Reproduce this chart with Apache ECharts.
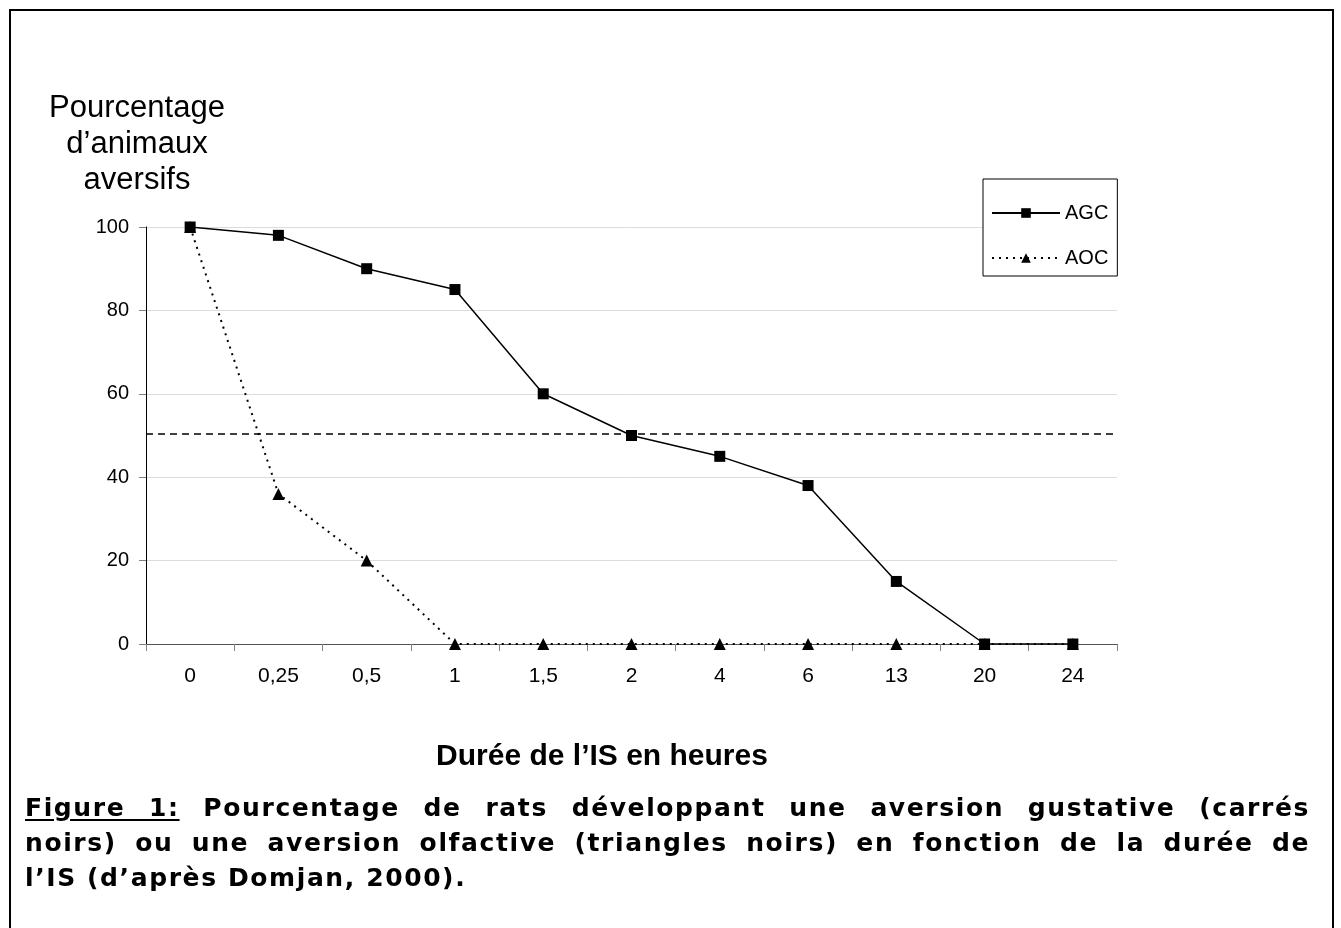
<!DOCTYPE html>
<html>
<head>
<meta charset="utf-8">
<script src="https://cdn.jsdelivr.net/npm/echarts@6/dist/echarts.min.js"></script>
<style>
  html, body { margin: 0; padding: 0; background: #fff; }
  #chart { width: 1341px; height: 928px; position: relative; }
  .caption {
    position: absolute;
    left: 25px;
    top: 790px;
    width: 1285px;
    font-family: "DejaVu Sans", sans-serif;
    font-weight: bold;
    font-size: 25px;
    letter-spacing: 1.6px;
    line-height: 35px;
    color: #000;
  }
  .caption div { white-space: nowrap; }
  .caption .just { text-align: justify; text-align-last: justify; }
  .caption u { text-underline-offset: 3px; }
</style>
</head>
<body>
<div id="chart"></div>
<div class="caption">
  <div class="just"><u>Figure 1:</u> Pourcentage de rats développant une aversion gustative (carrés</div>
  <div class="just">noirs) ou une aversion olfactive (triangles noirs) en fonction de la durée de</div>
  <div>l’IS (d’après Domjan, 2000).</div>
</div>
<script>
  // durée de l'IS (heures)
  const durations = ["0", "0,25", "0,5", "1", "1,5", "2", "4", "6", "13", "20", "24"];
  // aversion gustative (carrés)
  const agcValues = [100, 98, 90, 85, 60, 50, 45, 38, 15, 0, 0];
  // aversion olfactive (triangles)
  const aocValues = [100, 36, 20, 0, 0, 0, 0, 0, 0, 0, 0];
  const yTicks = [0, 20, 40, 60, 80, 100];
  const threshold = 50.5;

  const chart = echarts.init(document.getElementById("chart"));
  const font = "Liberation Sans";

  chart.setOption({
    animation: false,
    textStyle: { fontFamily: font, color: "#000" },
    grid: { left: 146, right: 224, top: 227, bottom: 284 },
    legend: {
      orient: "vertical",
      left: 983,
      top: 179,
      padding: [24, 9, 8, 8],
      itemGap: 25,
      itemWidth: 68,
      itemHeight: 12,
      borderColor: "#000",
      borderWidth: 1,
      backgroundColor: "#fff",
      textStyle: { fontFamily: font, fontSize: 20, color: "#000" },
      data: ["AGC", "AOC"]
    },
    xAxis: {
      type: "category",
      data: durations,
      boundaryGap: true,
      axisLine: { lineStyle: { color: "#555", width: 1 } },
      axisTick: { show: true, length: 7, lineStyle: { color: "#808080" } },
      axisLabel: { fontSize: 21, color: "#000", margin: 22, fontFamily: font },
      splitLine: { show: false }
    },
    yAxis: {
      type: "value",
      min: yTicks[0],
      max: yTicks[yTicks.length - 1],
      interval: yTicks[1] - yTicks[0],
      axisLine: { show: true, lineStyle: { color: "#000", width: 1 } },
      axisTick: { show: true, length: 7, lineStyle: { color: "#808080" } },
      axisLabel: { fontSize: 20, color: "#000", margin: 17, fontFamily: font },
      splitLine: { show: true, lineStyle: { color: "#dcdcdc", width: 1 } }
    },
    series: [
      {
        name: "AGC",
        type: "line",
        data: agcValues,
        symbol: "rect",
        symbolSize: 11,
        itemStyle: { color: "#000" },
        lineStyle: { color: "#000", width: 1.5 },
        markLine: {
          silent: true,
          symbol: "none",
          label: { show: false },
          lineStyle: { color: "#000", type: [7, 5], width: 1.5 },
          data: [{ yAxis: threshold }]
        },
        z: 3
      },
      {
        name: "AOC",
        type: "line",
        data: aocValues,
        symbol: "triangle",
        symbolSize: 12,
        itemStyle: { color: "#000" },
        lineStyle: { color: "#000", width: 2, type: [2, 5] },
        z: 4
      }
    ],
    graphic: [
      {
        type: "rect",
        shape: { x: 10, y: 10, width: 1323, height: 1000 },
        style: { fill: "none", stroke: "#000", lineWidth: 2 },
        silent: true
      },
      {
        type: "text",
        x: 137,
        y: 90,
        style: {
          text: "Pourcentage\nd’animaux\naversifs",
          fontFamily: font,
          fontSize: 31,
          fill: "#000",
          align: "center",
          verticalAlign: "top",
          lineHeight: 36
        }
      },
      {
        type: "text",
        x: 602,
        y: 757,
        style: {
          text: "Durée de l’IS en heures",
          fontFamily: font,
          fontSize: 30,
          fontWeight: "bold",
          fill: "#000",
          align: "center",
          verticalAlign: "middle"
        }
      }
    ]
  });
</script>
</body>
</html>
